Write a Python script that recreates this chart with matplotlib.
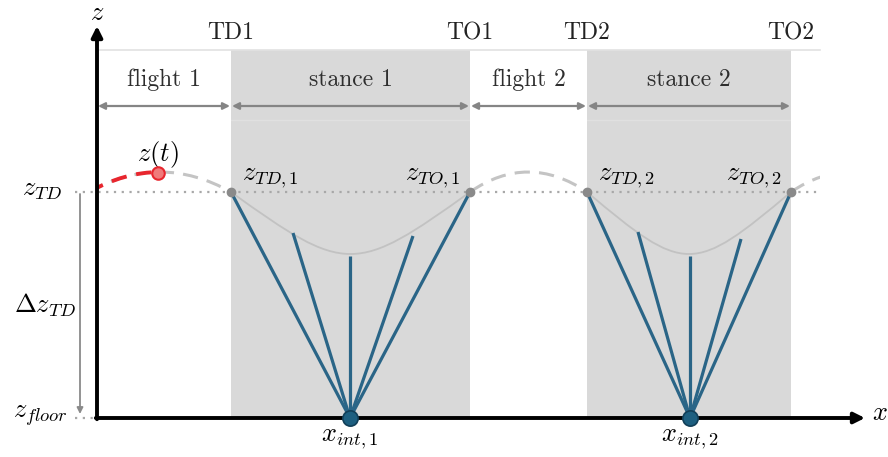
import matplotlib
matplotlib.use("Agg")
import matplotlib.pyplot as plt
from matplotlib.path import Path
from matplotlib.patches import PathPatch, Rectangle

plt.rcParams['mathtext.fontset'] = 'cm'
plt.rcParams['font.family'] = ['cmr10', 'DejaVu Serif']
plt.rcParams['axes.formatter.use_mathtext'] = True

# layout units: x along the ground, z above the floor
z_floor = 0
z_td = 226
z_top = 368
x_axis0 = 97
x_end = 820

td_x = [231, 587]
to_x = [470, 791]
x_int = [350, 690]
flight_apex_x = [160, 528, 850]
flight_apex_z = [246, 246, 246]
stance_min_z = [164, 164]

legs_x = [[231, 293, 350, 413, 470], [587, 638, 690, 741, 791]]
legs_z = [[226, 185, 162, 182, 226], [226, 186, 162, 179, 226]]

phase_names = ['flight 1', 'stance 1', 'flight 2', 'stance 2']
event_names = ['TD1', 'TO1', 'TD2', 'TO2']
z_now_x = 158

leg_col = '#2a6587'
gray_fill = '#d9d9d9'

fig = plt.figure(figsize=(8.88, 4.57), dpi=100)
ax = fig.add_axes([0, 0, 1, 1])
ax.set_xlim(0, 888)
ax.set_ylim(-39, 418)
ax.axis('off')

# stance regions
for a, b in zip(td_x, to_x):
    ax.add_patch(Rectangle((a, z_floor), b - a, z_top - z_floor,
                           facecolor=gray_fill, edgecolor='none', zorder=0))
ax.plot([x_axis0 + 3, x_end], [z_top, z_top], color='#e2e2e2', lw=1.2, zorder=1)
ax.plot([x_axis0 + 3, x_end], [298, 298], color='white', lw=1.0, alpha=0.2, zorder=1)

# phase arrows and labels
bounds = [x_axis0] + sorted(td_x + to_x)
for i, name in enumerate(phase_names):
    a, b = bounds[i], bounds[i + 1]
    ax.annotate('', xy=(b - 1, 312), xytext=(a + 1, 312),
                arrowprops=dict(arrowstyle='<|-|>', color='#858585', lw=1.6,
                                shrinkA=0, shrinkB=0, mutation_scale=10))
    ax.text((a + b) / 2, 338, name, ha='center', va='center', fontsize=17, color='#2e2e2e')
for xe, name in zip(sorted(td_x + to_x), event_names):
    ax.text(xe, 385, name, ha='center', va='center', fontsize=17, color='#222222')

# dotted reference lines
ax.plot([75, x_end], [z_td, z_td], color='#a8a8a8', lw=1.6, ls=(0, (1, 2.5)), zorder=2)
ax.plot([75, x_axis0], [z_floor, z_floor], color='#a8a8a8', lw=1.6, ls=(0, (1, 2.5)), zorder=2)

# flight arcs (parabolas as quadratic Bezier curves)
starts = [2 * flight_apex_x[0] - td_x[0], to_x[0], to_x[1]]
ends = [td_x[0], td_x[1], 2 * flight_apex_x[2] - to_x[1]]
for s, e, ax_x, ax_z in zip(starts, ends, flight_apex_x, flight_apex_z):
    p = Path([(s, z_td), (ax_x, 2 * ax_z - z_td), (e, z_td)],
             [Path.MOVETO, Path.CURVE3, Path.CURVE3])
    patch = PathPatch(p, facecolor='none', edgecolor='#c4c4c4', lw=2.2,
                      ls=(0, (5, 3)), zorder=3)
    ax.add_patch(patch)
    clip = Rectangle((x_axis0, -50), x_end - x_axis0, 500, transform=ax.transData)
    patch.set_clip_path(clip)
    if s < x_axis0:
        red = PathPatch(p, facecolor='none', edgecolor='#e8262e', lw=2.8,
                        ls=(0, (4, 2.5)), zorder=4)
        ax.add_patch(red)
        red.set_clip_path(Rectangle((x_axis0, -50), z_now_x - x_axis0, 500,
                                    transform=ax.transData))

# stance trajectories
for a, b, zm in zip(td_x, to_x, stance_min_z):
    c = (8 * zm - 2 * z_td) / 6
    w = (b - a) * 0.48
    p = Path([(a, z_td), (a + w, c), (b - w, c), (b, z_td)],
             [Path.MOVETO, Path.CURVE4, Path.CURVE4, Path.CURVE4])
    ax.add_patch(PathPatch(p, facecolor='none', edgecolor='#c2c2c2', lw=1.3, zorder=3))

# legs
for xs, zs, xf in zip(legs_x, legs_z, x_int):
    for xt, zt in zip(xs, zs):
        ax.plot([xf, xt], [z_floor, zt], color=leg_col, lw=2.3, zorder=5,
                solid_capstyle='butt')
    ax.plot([xs[0], xs[-1]], [zs[0], zs[-1]], ls='none', marker='o', ms=6,
            color='#8a8a8a', zorder=6)
    ax.plot(xf, z_floor, marker='o', ms=11, color='#1d5f80', mec='#123f58',
            mew=1.2, zorder=8)

# z(t) point
ax.plot(z_now_x, 245, marker='o', ms=9, mfc='#f07a7a', mec='#e8262e', mew=1.5, zorder=7)

# axes
ax.annotate('', xy=(865, z_floor), xytext=(x_axis0 - 1.2, z_floor),
            arrowprops=dict(arrowstyle='-|>', color='black', lw=2.8,
                            shrinkA=0, shrinkB=0, mutation_scale=16), zorder=7)
ax.annotate('', xy=(x_axis0, 392), xytext=(x_axis0, z_floor - 1.2),
            arrowprops=dict(arrowstyle='-|>', color='black', lw=2.8,
                            shrinkA=0, shrinkB=0, mutation_scale=16), zorder=7)
ax.annotate('', xy=(80, z_floor + 4), xytext=(80, z_td - 2),
            arrowprops=dict(arrowstyle='-|>', color='#8a8a8a', lw=1.3,
                            shrinkA=0, shrinkB=0, mutation_scale=9))

# labels
ms = 19
ax.text(x_axis0, 405, r'$z$', ha='center', va='center', fontsize=ms)
ax.text(880, 5, r'$x$', ha='center', va='center', fontsize=ms)
ax.text(42, z_td + 2, r'$z_{TD}$', ha='center', va='center', fontsize=ms)
ax.text(45, 113, r'$\Delta z_{TD}$', ha='center', va='center', fontsize=ms)
ax.text(40, z_floor + 2, r'$z_{floor}$', ha='center', va='center', fontsize=ms)
ax.text(z_now_x, 263, r'$z(t)$', ha='center', va='center', fontsize=ms)
for i in range(2):
    ax.text(td_x[i] + 39, 240, r'$z_{TD,%d}$' % (i + 1), ha='center', va='center', fontsize=ms)
    ax.text(to_x[i] - 37, 240, r'$z_{TO,%d}$' % (i + 1), ha='center', va='center', fontsize=ms)
    ax.text(x_int[i], -21, r'$x_{int,%d}$' % (i + 1), ha='center', va='center', fontsize=ms)

fig.savefig('out.png', dpi=100, facecolor='white')
